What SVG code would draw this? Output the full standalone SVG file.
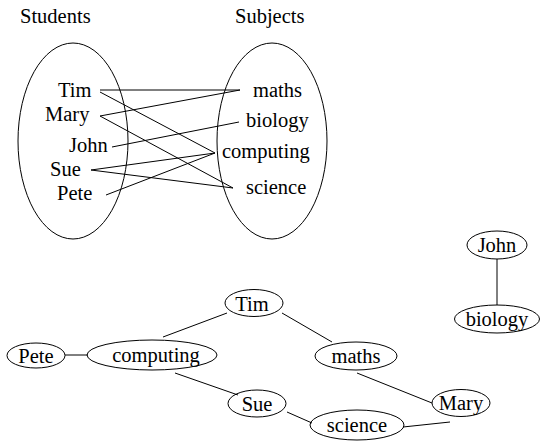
<svg xmlns="http://www.w3.org/2000/svg" width="551" height="447" viewBox="0 0 551 447">
<style>
text{font-family:'Liberation Serif','Times New Roman',serif;font-size:20.5px;fill:#000}
.m{text-anchor:middle}
ellipse{fill:none;stroke:#000;stroke-width:1}
line{stroke:#000;stroke-width:1}
</style>
<rect width="551" height="447" fill="#fff"/>
<g id="sets">
<text x="20" y="23">Students</text>
<text x="235" y="23">Subjects</text>
<ellipse cx="73" cy="141" rx="55" ry="98"/>
<ellipse cx="272" cy="141" rx="55" ry="98"/>
<text x="58" y="97">Tim</text>
<text x="45" y="121">Mary</text>
<text x="69" y="152">John</text>
<text x="50" y="176">Sue</text>
<text x="57" y="200">Pete</text>
<text x="253" y="97">maths</text>
<text x="246" y="127">biology</text>
<text x="222" y="158">computing</text>
<text x="246" y="194">science</text>
</g>
<g id="mapping">
<line x1="100" y1="90" x2="240" y2="90"/>
<line x1="100" y1="92" x2="215" y2="153"/>
<line x1="100" y1="116" x2="240" y2="90"/>
<line x1="100" y1="116" x2="233" y2="188"/>
<line x1="112" y1="147" x2="239" y2="122"/>
<line x1="91" y1="170" x2="215" y2="153"/>
<line x1="91" y1="170" x2="233" y2="188"/>
<line x1="106" y1="195" x2="215" y2="153"/>
</g>
<g id="connectors">
<line x1="227" y1="313" x2="163" y2="337"/>
<line x1="282" y1="313" x2="332" y2="342"/>
<line x1="65" y1="355" x2="88" y2="355"/>
<line x1="175" y1="373" x2="238" y2="395"/>
<line x1="357" y1="373" x2="432" y2="403"/>
<line x1="287" y1="412" x2="312" y2="423"/>
<line x1="403" y1="427" x2="450" y2="422"/>
<line x1="497" y1="259" x2="497" y2="305"/>
</g>
<g id="n-tim"><ellipse cx="254" cy="303" rx="29" ry="13.5"/><text class="m" x="252" y="311">Tim</text></g>
<g id="n-pete"><ellipse cx="36" cy="355.5" rx="29" ry="12.5"/><text class="m" x="36" y="363">Pete</text></g>
<g id="n-computing"><ellipse cx="152" cy="355" rx="65" ry="15"/><text class="m" x="156" y="362">computing</text></g>
<g id="n-maths"><ellipse cx="356" cy="356" rx="41" ry="14"/><text class="m" x="356" y="363">maths</text></g>
<g id="n-sue"><ellipse cx="257" cy="403.5" rx="29" ry="13.5"/><text class="m" x="257" y="411">Sue</text></g>
<g id="n-science"><ellipse cx="357" cy="425" rx="47" ry="15"/><text class="m" x="357" y="432">science</text></g>
<g id="n-mary"><ellipse cx="461" cy="403" rx="29" ry="13.5"/><text class="m" x="461" y="410">Mary</text></g>
<g id="n-john"><ellipse cx="497" cy="245" rx="30" ry="14"/><text class="m" x="497" y="252">John</text></g>
<g id="n-biology"><ellipse cx="497" cy="319" rx="42.5" ry="14"/><text class="m" x="497" y="326">biology</text></g>
</svg>
